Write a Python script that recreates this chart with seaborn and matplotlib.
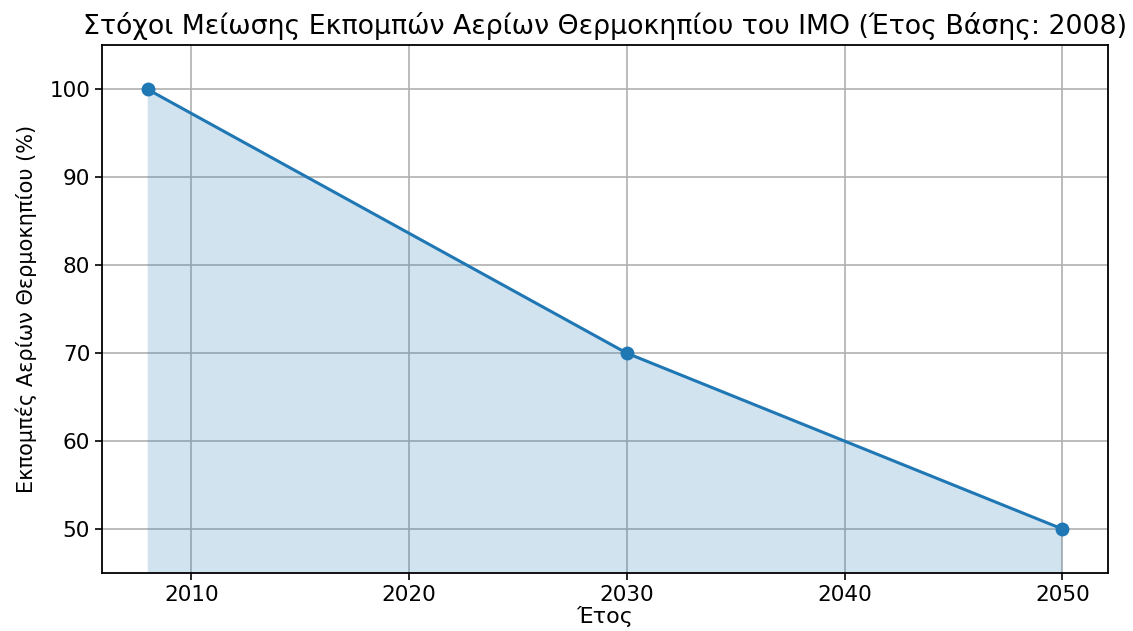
import numpy as np
import pandas as pd
import seaborn as sns
import matplotlib.pyplot as plt

# Στόχοι IMO (έτος βάσης 2008)
years = [2008, 2030, 2050]
emissions = [100, 70, 50]

df = pd.DataFrame({"year": years, "emissions": emissions})

sns.set_style("ticks", {"text.color": "black", "axes.labelcolor": "black",
                        "xtick.color": "black", "ytick.color": "black",
                        "axes.edgecolor": "black"})
plt.rcParams["font.family"] = ["DejaVu Sans"]

fig, ax = plt.subplots(figsize=(11.33, 6.31), dpi=100)
fig.subplots_adjust(left=0.09, right=0.978, top=0.928, bottom=0.092)

sns.lineplot(data=df, x="year", y="emissions", marker="o", markersize=10,
             markeredgewidth=0, color="#1f77b4", linewidth=2.2, ax=ax)
ax.fill_between(df["year"], df["emissions"], color="#1f77b4", alpha=0.2, linewidth=0)

ax.set_ylim(45, 105)
ax.set_xticks([2010, 2020, 2030, 2040, 2050])
ax.set_yticks([50, 60, 70, 80, 90, 100])
ax.tick_params(labelsize=15.5, width=1.2, length=5)
for s in ax.spines.values():
    s.set_linewidth(1.3)
ax.grid(True, color="#b0b0b0", linewidth=1.2)
ax.set_axisbelow(True)

ax.set_title("Στόχοι Μείωσης Εκπομπών Αερίων Θερμοκηπίου του IMO (Έτος Βάσης: 2008)",
             fontsize=19.3, pad=8)
ax.set_xlabel("Έτος", fontsize=16, labelpad=1)
ax.set_ylabel("Εκπομπές Αερίων Θερμοκηπίου (%)", fontsize=15, labelpad=9)

plt.savefig("out.png", dpi=100)
